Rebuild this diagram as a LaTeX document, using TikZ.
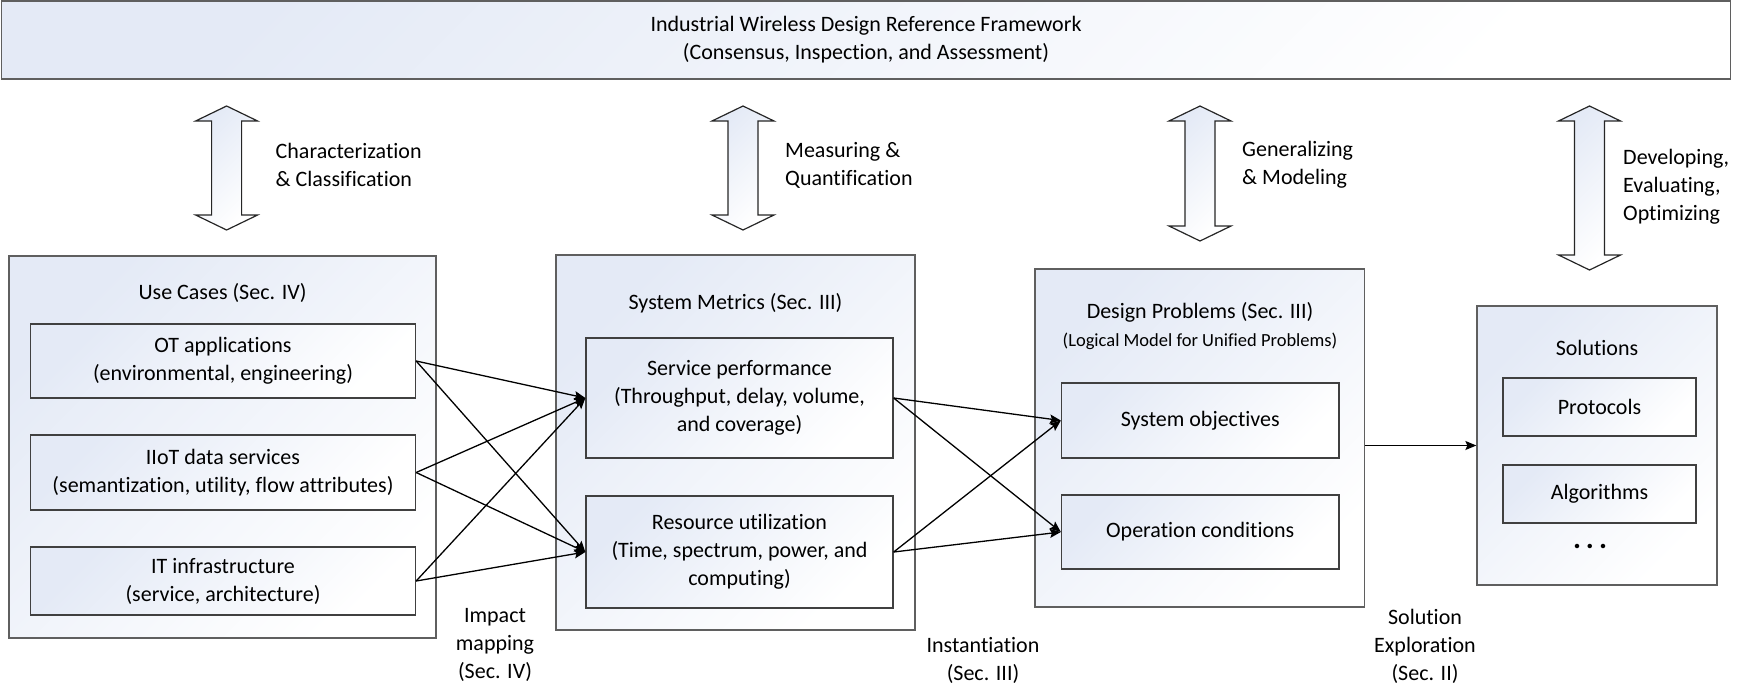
\documentclass[tikz,border=0pt]{standalone}
\usepackage{fontspec}
\setmainfont{Carlito}[Ligatures=NoCommon]
\usetikzlibrary{arrows.meta}
\definecolor{bgc}{RGB}{228,234,246}
\definecolor{edgec}{RGB}{95,95,95}
\tikzset{
  every node/.style={font=\fontsize{22}{28}\selectfont, align=center, inner sep=0pt},
  boxstyle/.style={draw=edgec, line width=1.3pt, shading=axis, top color=bgc, middle color=bgc!35!white, bottom color=white, shading angle=45},
  outerbox/.style={boxstyle},
  innerbox/.style={boxstyle, draw=black!75},
  conn/.style={line width=1.3pt, -{Stealth[length=11pt,width=9pt,inset=2pt]}},
  dblarr/.style={draw=black!85, line width=1.2pt, shading=axis, top color=bgc, middle color=bgc!35!white, bottom color=white, shading angle=45},
  sidelabel/.style={anchor=west, align=left},
}
\begin{document}
\begin{tikzpicture}[x=1pt,y=-1pt]
\useasboundingbox (0,0) rectangle (1753,699);

% top framework box
\node[outerbox, minimum width=1729pt, minimum height=78pt] (top) at (866,40)
  {Industrial Wireless Design Reference Framework\\(Consensus, Inspection, and Assessment)};

% double arrows
\foreach \cx/\yb [count=\i] in {226.6/230, 743/230, 1200/241, 1589.5/270} {
  \path[dblarr] (\cx,106) -- (\cx+31,121) -- (\cx+15,121) -- (\cx+15,\yb-15)
     -- (\cx+31,\yb-15) -- (\cx,\yb) -- (\cx-31,\yb-15) -- (\cx-15,\yb-15)
     -- (\cx-15,121) -- (\cx-31,121) -- cycle;
}

% side labels
\node[sidelabel] (l1) at (275.5,165) {Characterization\\\& Classification};
\node[sidelabel] (l2) at (785,165) {Measuring \&\\Quantification};
\node[sidelabel] (l3) at (1242,165) {Generalizing\\\& Modeling};
\node[sidelabel] (l4) at (1623,187) {Developing,\\Evaluating,\\Optimizing};

% Use cases
\node[outerbox, minimum width=427pt, minimum height=382pt] (uc) at (222.5,447) {};
\node (uct) at (222.5,293) {Use Cases (Sec. IV)};
\node[innerbox, minimum width=385pt, minimum height=74pt] (ot) at (223,361)
  {OT applications\\(environmental, engineering)};
\node[innerbox, minimum width=385pt, minimum height=75pt] (iiot) at (223,472.5)
  {IIoT data services\\(semantization, utility, flow attributes)};
\node[innerbox, minimum width=385pt, minimum height=68pt] (it) at (223,581)
  {IT infrastructure\\(service, architecture)};

% System metrics
\node[outerbox, minimum width=359pt, minimum height=375pt] (sm) at (735.5,442.5) {};
\node (smt) at (735.5,303) {System Metrics (Sec. III)};
\node[innerbox, minimum width=307pt, minimum height=120pt] (serv) at (739.5,398)
  {Service performance\\(Throughput, delay, volume,\\and coverage)};
\node[innerbox, minimum width=307pt, minimum height=112pt] (res) at (739.5,552)
  {Resource utilization\\(Time, spectrum, power, and\\computing)};

% Design problems
\node[outerbox, minimum width=329.5pt, minimum height=338pt] (dp) at (1199.75,438) {};
\node (dpt) at (1200,312) {Design Problems (Sec. III)};
\node[font=\fontsize{18.5}{22}\selectfont] (dps) at (1200,341) {(Logical Model for Unified Problems)};
\node[innerbox, minimum width=277.5pt, minimum height=75pt] (obj) at (1200.25,420.5) {System objectives};
\node[innerbox, minimum width=277.5pt, minimum height=74pt] (cond) at (1200.25,532) {Operation conditions};

% Solutions
\node[outerbox, minimum width=240pt, minimum height=279pt] (sol) at (1597,445.5) {};
\node (solt) at (1597,348) {Solutions};
\node[innerbox, minimum width=193pt, minimum height=58pt] (prot) at (1599.5,407) {Protocols};
\node[innerbox, minimum width=193pt, minimum height=58pt] (alg) at (1599.5,494) {Algorithms};
\node[font=\fontsize{30}{30}\selectfont] (dots) at (1590,546) {\textbf{.\hspace{5pt}.\hspace{5pt}.}};

% bottom labels
\node (b1) at (495,645) {Impact\\mapping\\(Sec. IV)};
\node (b2) at (983,660) {Instantiation\\(Sec. III)};
\node (b3) at (1425,646) {Solution\\Exploration\\(Sec. II)};

% connectors
\foreach \s in {ot,iiot,it} {
  \draw[conn] (\s.east) -- (serv.west);
  \draw[conn] (\s.east) -- (res.west);
}
\foreach \s in {serv,res} {
  \draw[conn] (\s.east) -- (obj.west);
  \draw[conn] (\s.east) -- (cond.west);
}
\draw[conn] (dp.east |- sol.west) -- (sol.west);
\end{tikzpicture}
\end{document}
